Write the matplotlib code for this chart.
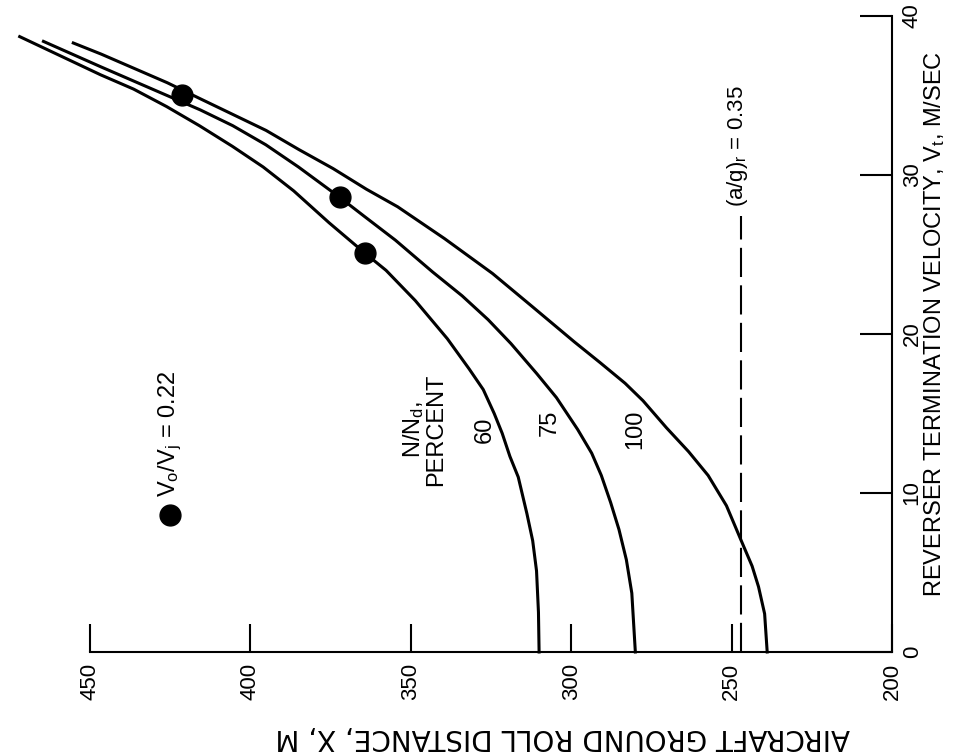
import matplotlib
matplotlib.use('Agg')
import matplotlib.pyplot as plt

plt.rcParams['font.family'] = ['Liberation Sans', 'DejaVu Sans']

# ground roll distance X (m) against reverser termination velocity Vt (m/s), per N/Nd
v_60 = [0.0, 2.5, 5.1, 7.0, 8.7, 11.0, 12.3, 13.75, 15.0, 16.5, 17.8, 19.7, 22.1, 24.0, 25.1,
        27.0, 29.0, 30.5, 31.8, 33.1, 34.3, 35.4, 36.3, 38.7]
x_60 = [310.0, 310.2, 310.8, 312.0, 313.8, 316.5, 319.1, 321.5, 324.0, 327.4, 331.8, 338.6, 348.6, 357.7, 364.4,
        375.5, 386.5, 396.0, 405.6, 415.9, 426.1, 436.4, 446.7, 471.9]

v_75 = [0.0, 3.7, 5.8, 7.7, 9.4, 11.1, 12.5, 14.0, 16.0, 17.5, 19.4, 20.9, 22.4, 23.9, 25.9,
        27.4, 28.6, 30.5, 31.9, 33.1, 34.1, 35.0, 35.9, 36.8, 38.4]
x_75 = [280.0, 281.1, 282.8, 285.1, 287.7, 290.6, 293.6, 298.0, 304.6, 310.7, 318.8, 325.9, 334.0, 343.2, 354.8,
        364.5, 372.2, 385.0, 395.2, 405.5, 415.7, 426.0, 436.3, 446.6, 464.5]

v_100 = [0.0, 2.4, 4.1, 5.4, 7.1, 9.2, 11.1, 12.6, 14.1, 15.8, 16.9, 18.2, 19.5, 21.7, 23.8,
         26.0, 28.0, 29.1, 30.4, 31.6, 32.8, 33.8, 34.8, 35.8, 36.7, 37.6, 38.3]
x_100 = [238.9, 239.7, 241.6, 243.6, 247.2, 251.6, 257.3, 263.4, 270.3, 277.6, 283.2, 291.0, 299.0, 312.0, 324.5,
         339.5, 354.1, 363.8, 374.2, 384.9, 395.1, 405.4, 415.7, 425.9, 436.2, 446.5, 455.2]

# points at Vo/Vj = 0.22
dot_v = [25.1, 28.6, 35.0]
dot_x = [364.4, 372.2, 421.2]

# (a/g)r = 0.35 line
ag_x = [247.0, 247.0]
ag_v = [0.0, 27.4]

x_ticks = [200, 250, 300, 350, 400, 450]
v_ticks = [0, 10, 20, 30, 40]

fig = plt.figure(figsize=(9.54, 7.56), dpi=100)
ax = fig.add_axes([0.0943, 0.1376, 0.8407, 0.8413])
ax.set_xlim(450, 200)
ax.set_ylim(0, 40)
ax.spines['top'].set_visible(False)
ax.spines['left'].set_visible(False)
ax.spines['bottom'].set_linewidth(1.5)
ax.spines['right'].set_linewidth(1.5)
ax.xaxis.tick_bottom()
ax.yaxis.tick_right()
ax.set_xticks(x_ticks)
ax.set_yticks(v_ticks)
ax.tick_params(axis='x', direction='in', length=20, width=1.5, pad=8, labelsize=16, labelrotation=90)
ax.tick_params(axis='y', direction='in', length=23, width=1.5, pad=7, labelsize=16, labelrotation=90)
for lab in ax.get_yticklabels():
    lab.set_va('center')

for xs, vs in [(x_60, v_60), (x_75, v_75), (x_100, v_100)]:
    ax.plot(xs, vs, color='black', lw=2.2, clip_on=False, solid_joinstyle='round')
ax.plot(dot_x, dot_v, 'o', color='black', ms=15, clip_on=False)
ax.plot(ag_x, ag_v, color='black', lw=1.5, dashes=(14, 4))

ax.text(326.8, 14.0, '60', rotation=90, ha='center', va='center', fontsize=17)
ax.text(306.8, 14.4, '75', rotation=90, ha='center', va='center', fontsize=17)
ax.text(280.0, 14.0, '100', rotation=90, ha='center', va='center', fontsize=17)
ax.text(345.8, 14.0, 'N/N$\\mathregular{_d}$,\nPERCENT', rotation=90, ha='center', va='center',
        fontsize=17, multialignment='center', linespacing=0.95)
ax.text(248.3, 28.0, '(a/g)$\\mathregular{_r}$ = 0.35', rotation=90, ha='center', va='bottom', fontsize=16)

# key
ax.plot([425.1], [8.6], 'o', color='black', ms=15, clip_on=False)
ax.text(425.0, 9.75, 'V$\\mathregular{_o}$/V$\\mathregular{_j}$ = 0.22', rotation=90, ha='center', va='bottom', fontsize=17)

fig.text(935 / 954, 1 - 324 / 756, 'REVERSER TERMINATION VELOCITY, V$\\mathregular{_t}$, M/SEC',
         rotation=90, ha='center', va='center', fontsize=17)
fig.text(563 / 954, 1 - 737 / 756, 'AIRCRAFT GROUND ROLL DISTANCE, X, M',
         rotation=180, ha='center', va='center', fontsize=20, family='DejaVu Sans')

fig.savefig('out.png', dpi=100)
